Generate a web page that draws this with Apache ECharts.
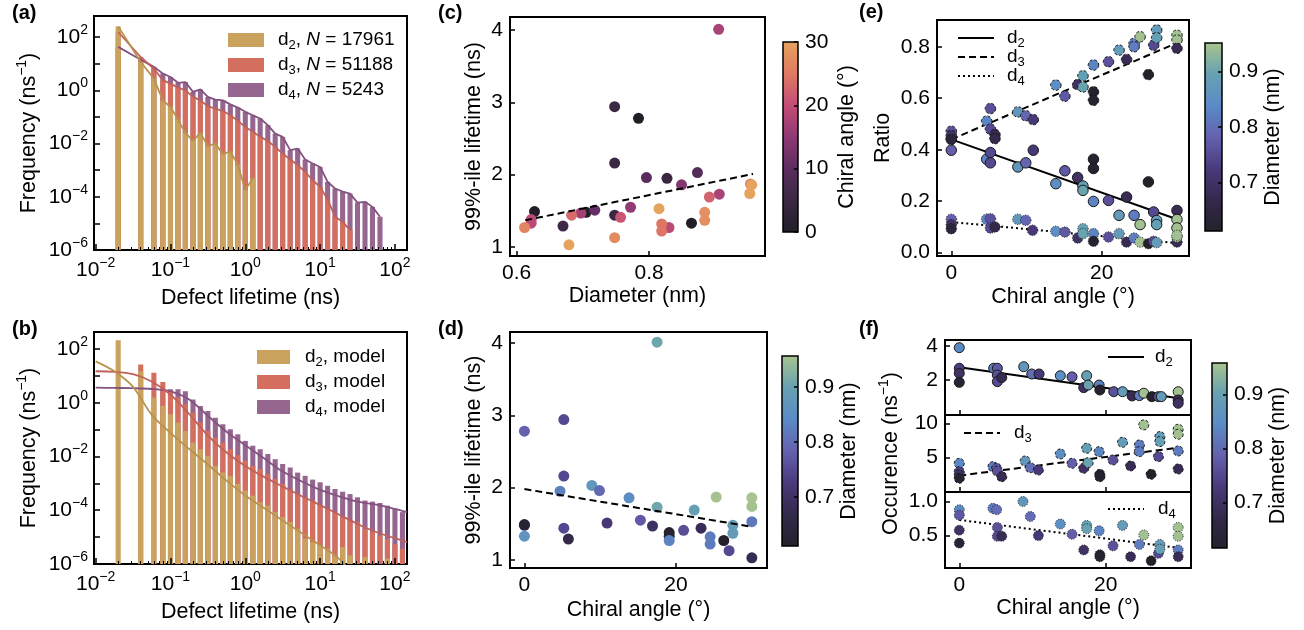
<!DOCTYPE html>
<html><head><meta charset="utf-8"><title>Defect lifetimes</title>
<script src="https://cdn.jsdelivr.net/npm/echarts@6.0.0/dist/echarts.min.js"></script>
<style>html,body{margin:0;padding:0;background:#fff;}#chart{width:1304px;height:630px;}</style>
</head><body><div id="chart"></div>
<script>
const FONT = '"Liberation Sans", Arial, Helvetica, sans-serif';

// ---------------- data ----------------
// histogram bin centres (ns)
const lifetimeBins = [0.02,0.04,0.06,0.079,0.1,0.126,0.158,0.2,0.251,0.316,0.398,0.501,0.631,0.794,1,1.26,1.58,2,2.51,3.16,3.98,5.01,6.31,7.94,10,12.6,15.8,20,25.1,31.6,39.8,50.1,63.1,79.4,100,126];
// panel (a): log10(frequency / ns^-1) read per bin, null = empty bin
const histA_d2 = [2.4,1.06,0.44,-0.38,-0.63,-1.1,-1.6,-1.9,-1.6,-2.1,-2.0,-2.4,-2.3,-2.8,-3.75,-3.3,null,null,null,null,null,null,null,null,null,null,null,null,null,null,null,null,null,null,null,null];
const histA_d3 = [2.19,1.25,0.81,0.38,0.25,0.1,0,-0.25,-0.38,-0.6,-0.69,-0.78,-0.94,-1.15,-1.38,-1.56,-1.75,-1.9,-2.13,-2.38,-2.6,-2.81,-3.06,-3.38,-3.63,-4.1,-4.75,-4.94,-5.25,null,null,null,null,null,null,null];
const histA_d4 = [1.63,1.15,0.88,0.63,0.5,0.28,0.31,-0.06,0.03,-0.25,-0.35,-0.38,-0.53,-0.65,-0.81,-0.94,-1.06,-1.31,-1.63,-1.75,-2.25,-2.19,-2.6,-2.75,-2.88,-3.44,-3.69,-3.81,-3.88,-4.22,-4.19,-4.38,-4.75,null,null,null];
// panel (b): sampled model histograms, log10
const histB_d2 = [2.32,1.17,0.19,-0.12,-0.43,-0.74,-1.05,-1.48,-1.73,-1.98,-2.35,-2.6,-2.72,-3.02,-3.27,-3.46,-3.7,-3.83,-4.07,-4.26,-4.44,-4.69,-5.06,-5.19,-5.31,-5.43,-5.68,-5.37,-5.68,null,-5.74,null,null,-5.8,null,null];
const histB_d3 = [null,1.42,1.11,0.77,0.45,0.19,-0.06,-0.37,-0.74,-1.05,-1.3,-1.48,-1.73,-1.95,-2.16,-2.35,-2.47,-2.65,-2.84,-3.02,-3.21,-3.4,-3.52,-3.64,-3.83,-3.95,-4.1,-4.26,-4.38,-4.44,-4.69,-4.81,-4.94,-5.06,-5.25,-5.43];
const histB_d4 = [null,null,null,0.5,0.5,0.5,0.43,0.12,-0.12,-0.31,-0.56,-0.8,-0.99,-1.17,-1.42,-1.6,-1.73,-1.91,-2.1,-2.28,-2.41,-2.6,-2.72,-2.86,-2.96,-3.09,-3.21,-3.31,-3.4,-3.52,-3.64,-3.68,-3.73,-3.83,-3.95,-4.07];
// panel (b): model curves, log10
const modelX = [0.01,0.0178,0.0316,0.0562,0.1,0.178,0.316,0.562,1,1.78,3.16,5.62,10,17.8,31.6,56.2,100,145];
const modelB_d2 = [1.54,1.17,0.59,-0.45,-1.12,-1.72,-2.3,-2.9,-3.45,-3.92,-4.38,-4.85,-5.3,-5.8,-6.6,null,null,null];
const modelB_d3 = [1.17,1.15,1.06,0.79,0.3,-0.42,-1.22,-1.85,-2.35,-2.76,-3.12,-3.47,-3.81,-4.16,-4.51,-4.81,-5.04,-5.19];
const modelB_d4 = [0.56,0.55,0.54,0.51,0.42,0.12,-0.49,-1.08,-1.58,-2.07,-2.56,-2.92,-3.24,-3.48,-3.68,-3.79,-3.95,-4.07];

// panels (c),(d): one entry per nanotube
const tubeDiameter = [0.905,0.748,0.784,0.748,0.827,0.873,0.796,0.849,0.953,0.955,0.952,0.906,0.891,0.815,0.884,0.884,0.705,0.627,0.864,0.748,0.670,0.718,0.772,0.697,0.622,0.622,0.830,0.757,0.683,0.819,0.819,0.612,0.748,0.679];
const tubeAngle    = [17.5,5.2,0,5.2,4.7,8.9,9.9,13.8,25.3,30,30,17.5,22.4,30,27.5,27.5,0,0,0,5.2,5.8,10.9,15.3,16.9,19.1,19.1,19.1,21.0,23.3,24.5,24.5,26.3,27.0,30];
const tubeLifetime = [4.01,2.94,2.78,2.16,1.95,2.03,1.96,1.86,1.87,1.86,1.74,1.73,1.69,1.53,1.48,1.37,1.48,1.49,1.33,1.44,1.29,1.51,1.55,1.47,1.38,1.33,1.27,1.41,1.44,1.32,1.22,1.27,1.13,1.03];
const fitC = [[0.613,1.37],[0.957,2.01]];
const fitD = [[0,1.98],[30,1.46]];

// panel (e): [chiral angle, ratio, diameter]
const ratioD2 = [[0,0.398,0.78],[0,0.443,0.70],[4.7,0.363,0.83],[5.2,0.389,0.75],[5.2,0.349,0.75],[8.85,0.333,0.87],[9.9,0.349,0.79],[10.9,0.398,0.72],[13.9,0.268,0.85],[15.1,0.318,0.77],[16.8,0.292,0.70],[17.5,0.259,0.89],[17.5,0.242,0.90],[18.9,0.199,0.83],[18.9,0.363,0.62],[18.9,0.327,0.62],[20.9,0.203,0.76],[22.3,0.145,0.88],[23.3,0.216,0.68],[24.3,0.145,0.82],[25.1,0.109,0.95],[26.2,0.275,0.61],[26.9,0.158,0.75],[27.3,0.125,0.88],[27.3,0.109,0.89],[30,0.164,0.68],[30,0.129,0.95],[30,0.096,0.95]];
const ratioD3 = [[0,0.472,0.76],[0,0.455,0.70],[0,0.44,0.64],[4.7,0.511,0.83],[5.2,0.56,0.76],[5.2,0.48,0.75],[5.8,0.459,0.67],[5.8,0.443,0.67],[8.85,0.547,0.87],[9.9,0.532,0.79],[10.9,0.517,0.72],[13.9,0.651,0.85],[15.1,0.608,0.77],[16.8,0.653,0.70],[17.5,0.687,0.89],[17.5,0.644,0.90],[18.9,0.729,0.83],[18.9,0.625,0.62],[18.9,0.592,0.62],[20.9,0.742,0.76],[22.3,0.787,0.88],[23.3,0.751,0.68],[24.3,0.813,0.82],[24.3,0.80,0.82],[25.1,0.839,0.95],[26.2,0.692,0.61],[26.9,0.806,0.75],[27.3,0.865,0.88],[27.3,0.835,0.89],[30,0.845,0.95],[30,0.826,0.95],[30,0.794,0.68]];
const ratioD4 = [[0,0.13,0.78],[0,0.109,0.70],[0,0.093,0.64],[4.7,0.13,0.83],[5.2,0.132,0.76],[5.2,0.096,0.75],[5.8,0.10,0.67],[8.85,0.13,0.87],[9.9,0.126,0.79],[10.8,0.087,0.72],[13.9,0.083,0.85],[15.1,0.08,0.77],[16.8,0.057,0.70],[17.5,0.093,0.89],[17.5,0.074,0.90],[18.9,0.074,0.83],[18.9,0.044,0.62],[20.9,0.061,0.76],[22.3,0.074,0.88],[23.3,0.041,0.68],[24.3,0.057,0.82],[25.1,0.041,0.95],[26.2,0.035,0.61],[26.9,0.044,0.75],[27.3,0.039,0.88],[30,0.041,0.68],[30,0.061,0.95],[30,0.067,0.95]];
const fitRatioD2 = [[0,0.44],[30,0.13]];
const fitRatioD3 = [[0,0.44],[30,0.815]];
const fitRatioD4 = [[0,0.119],[30,0.037]];

// panel (f): [chiral angle, occurrence (ns^-1), diameter]
const occD2 = [[0,3.9,0.84],[0,2.69,0.73],[0,2.39,0.70],[0,1.86,0.63],[4.7,2.69,0.82],[5.2,2.69,0.77],[5.2,2.29,0.76],[5.2,1.9,0.75],[5.8,2.14,0.68],[8.8,2.78,0.87],[9.9,2.35,0.80],[10.9,2.35,0.72],[13.8,2.25,0.85],[15.4,2.18,0.78],[17.4,2.25,0.89],[17.0,1.55,0.70],[17.6,1.7,0.90],[19.1,1.7,0.83],[19.2,1.41,0.62],[21.1,1.31,0.76],[22.3,1.31,0.88],[23.6,1.06,0.68],[24.6,1.08,0.82],[25.2,1.22,0.95],[26.3,1.02,0.61],[27.2,1.02,0.75],[27.6,1.02,0.88],[29.9,1.31,0.95],[29.9,0.82,0.68],[29.9,0.63,0.70]];
const occD3 = [[0,4.17,0.84],[0,2.96,0.73],[0,2.48,0.70],[0,1.99,0.63],[4.6,3.69,0.82],[5.1,3.45,0.77],[5.2,3.06,0.76],[5.8,2.23,0.68],[9.0,4.51,0.87],[9.7,3.54,0.80],[10.8,3.2,0.72],[13.8,5.53,0.85],[15.4,4.17,0.78],[17.4,6.36,0.89],[17.0,3.45,0.70],[17.6,4.27,0.90],[19.1,5.87,0.83],[19.2,2.57,0.62],[19.2,2.23,0.62],[21.0,4.66,0.76],[22.3,7.23,0.88],[23.4,3.79,0.68],[24.6,6.84,0.82],[24.6,5.87,0.82],[25.2,9.76,0.95],[26.2,2.57,0.61],[27.2,5.15,0.75],[27.4,8.06,0.88],[27.4,7.33,0.89],[29.9,9.13,0.95],[29.9,8.4,0.95],[29.9,5.97,0.82],[29.9,3.35,0.68]];
const occD4 = [[0,0.88,0.84],[0,0.80,0.77],[0,0.58,0.70],[0,0.39,0.63],[4.6,0.90,0.82],[5.1,0.88,0.80],[5.2,0.62,0.76],[5.2,0.49,0.75],[5.8,0.49,0.68],[8.7,1.0,0.87],[9.7,0.78,0.80],[10.8,0.5,0.72],[13.8,0.67,0.85],[15.4,0.52,0.78],[17.4,0.65,0.89],[17.4,0.6,0.90],[17.0,0.29,0.70],[19.1,0.57,0.83],[19.2,0.22,0.62],[19.2,0.19,0.62],[21.0,0.35,0.76],[22.3,0.65,0.88],[23.4,0.19,0.68],[24.6,0.37,0.82],[25.2,0.51,0.95],[26.2,0.13,0.61],[27.2,0.24,0.75],[27.4,0.37,0.88],[27.4,0.30,0.89],[29.9,0.62,0.95],[29.9,0.49,0.95],[29.9,0.29,0.82],[29.9,0.19,0.68]];
const fitOccD2 = [[0,2.75],[30,0.92]];
const fitOccD3 = [[0,2.38],[30,6.46]];
const fitOccD4 = [[0,0.73],[30,0.32]];

// tick values
const ticksDiamX = [0.6,0.8];
const ticksLife = [1,2,3,4];
const ticksAngle = [0,20];
const ticksRatio = [0,0.2,0.4,0.6,0.8];
const ticksOccD2 = [2,4];
const ticksOccD3 = [5,10];
const ticksOccD4 = [0.5,1.0];
const ticksAngleBar = [0,10,20,30];
const ticksDiamBar = [0.7,0.8,0.9];

// colour maps
const angleColors = ['#221e28','#3a2841','#5b2d5f','#8e3a74','#c44d77','#e07a62','#e6a35e'];
const diamColors  = ['#24212b','#33294a','#4a3a7c','#6561af','#5a8bc6','#67a2b1','#a9c48e'];
const barCol  = {d2:'#c9a25e', d3:'#d46f5f', d4:'#946690'};
const lineCol = {d2:'#b8934f', d3:'#c0615a', d4:'#84527f'};

// ---------------- helpers ----------------
const BAR_HALF = Math.pow(10, 0.034);
const FREQ_MIN = 1e-6;
function histPairs(vals){ const o=[]; vals.forEach((v,i)=>{ if(v!==null) o.push([lifetimeBins[i], Math.pow(10,v)]); }); return o; }
function modelPairs(vals){ const o=[]; vals.forEach((v,i)=>{ if(v!==null) o.push([modelX[i], Math.pow(10,v)]); }); return o; }

const black = '#000';
const TICK_FS = 21, NAME_FS = 21.5;
const lblBase = {color:black, fontSize:TICK_FS, fontFamily:FONT};
const nameStyle = {color:black, fontSize:NAME_FS, fontFamily:FONT, rich:{s:{fontSize:14, lineHeight:14, verticalAlign:'top', fontFamily:FONT}}};
function tickIn(vals, len){ const t={show:true, inside:true, length:len||5, lineStyle:{color:black, width:1.5}}; if(vals) t.customValues=vals; return t; }
function powFormatter(evenOnly){ return function(v){ const e=Math.log10(v), r=Math.round(e); if(Math.abs(e-r)>0.01) return ''; if(evenOnly && r%2!==0) return ''; return '{b|10}{s|'+(r<0?'\u2212':'')+Math.abs(r)+'}'; }; }
const powRich = {b:{fontSize:TICK_FS, lineHeight:28, color:black, fontFamily:FONT}, s:{fontSize:14, lineHeight:14, verticalAlign:'top', color:black, fontFamily:FONT}};
const noLine = {show:false, onZero:false};

function gridBox(l,t,w,h){ return {left:l, top:t, width:w, height:h, show:true, borderColor:black, borderWidth:2, backgroundColor:'transparent', containLabel:false}; }
function cbarGrid(l,t,w,h,colors){ return {left:l, top:t, width:w, height:h, show:true, borderColor:black, borderWidth:1.5,
  backgroundColor:{type:'linear', x:0, y:1, x2:0, y2:0, colorStops: colors.map((c,i)=>({offset:i/(colors.length-1), color:c}))}}; }

function logX(gi){ return {gridIndex:gi, type:'log', logBase:10, min:0.0095, max:145, z:5,
  axisLine:noLine, splitLine:{show:false}, axisTick:tickIn(null,6), minorTick:{show:true, splitNumber:9, length:3, lineStyle:{color:black, width:1}},
  axisLabel:{formatter:powFormatter(false), rich:powRich, margin:6, showMinLabel:true, showMaxLabel:true},
  name:'Defect lifetime (ns)', nameLocation:'middle', nameGap:37, nameTextStyle:nameStyle}; }
function logY(gi,max){ return {gridIndex:gi, type:'log', logBase:10, min:FREQ_MIN, max:max, z:5,
  axisLine:noLine, splitLine:{show:false}, axisTick:tickIn(null,6),
  axisLabel:{formatter:powFormatter(true), rich:powRich, margin:6},
  name:'Frequency (ns{s|\u22121})', nameLocation:'middle', nameRotate:90, nameGap:51, nameTextStyle:Object.assign({}, nameStyle, {lineHeight:28})}; }
function linAxis(gi, min, max, ticks, fmt, extra){ return Object.assign({gridIndex:gi, type:'value', min:min, max:max, z:5,
  axisLine:noLine, splitLine:{show:false}, axisTick:tickIn(ticks,5),
  axisLabel:Object.assign({customValues:ticks, formatter:fmt, margin:7}, lblBase)}, extra||{}); }
const f1 = v => v.toFixed(1), f0 = v => String(Math.round(v));

// ---------------- series ----------------
function barSeries(gi, name, vals, color){
  return {type:'custom', name:name, xAxisIndex:gi, yAxisIndex:gi, data:histPairs(vals), encode:{x:0,y:1}, z:2, silent:true,
    itemStyle:{color:color},
    renderItem:function(params, api){
      const x=api.value(0), y=api.value(1);
      const p0=api.coord([x/BAR_HALF, y]);
      const p1=api.coord([x*BAR_HALF, FREQ_MIN]);
      return {type:'rect', shape:{x:p0[0], y:p0[1], width:p1[0]-p0[0], height:p1[1]-p0[1]}, style:{fill:color}};
    }};
}
function lineSeries(gi, name, data, color, width, smooth, z){
  return {type:'line', name:name, xAxisIndex:gi, yAxisIndex:gi, data:data, symbol:'none', smooth:smooth||false, silent:true, z:z||4,
    lineStyle:{color:color, width:width}};
}
function fitSeries(gi, name, data, dash, z){
  return {type:'line', name:name, xAxisIndex:gi, yAxisIndex:gi, data:data, symbol:'none', silent:true, z:z,
    lineStyle:{color:black, width:2, type:dash}, itemStyle:{color:black}};
}
function scatter(gi, name, data, size, border){
  const s = {type:'scatter', name:name, xAxisIndex:gi, yAxisIndex:gi, data:data, symbolSize:size, silent:true, z:3, itemStyle:{opacity:1}};
  if (border) s.itemStyle = {opacity:1, borderColor:'#1a1a1a', borderWidth:1, borderType:border};
  return s;
}

const series = [
  barSeries(0,'a_d4',histA_d4,barCol.d4), barSeries(0,'a_d3',histA_d3,barCol.d3), barSeries(0,'a_d2',histA_d2,barCol.d2),   //0-2
  lineSeries(0,'aL4',histPairs(histA_d4),lineCol.d4,1.8), lineSeries(0,'aL3',histPairs(histA_d3),lineCol.d3,1.8), lineSeries(0,'aL2',histPairs(histA_d2),lineCol.d2,1.8), //3-5
  barSeries(1,'b_d4',histB_d4,barCol.d4), barSeries(1,'b_d3',histB_d3,barCol.d3), barSeries(1,'b_d2',histB_d2,barCol.d2),   //6-8
  lineSeries(1,'bL4',modelPairs(modelB_d4),lineCol.d4,1.8,0.3), lineSeries(1,'bL3',modelPairs(modelB_d3),lineCol.d3,1.8,0.3), lineSeries(1,'bL2',modelPairs(modelB_d2),lineCol.d2,1.8,0.3), //9-11
  scatter(2,'c',tubeDiameter.map((d,i)=>[d,tubeLifetime[i],tubeAngle[i]]),11), //12
  fitSeries(2,'cfit',fitC,[7,4],4), //13
  scatter(3,'d',tubeAngle.map((a,i)=>[a,tubeLifetime[i],tubeDiameter[i]]),11), //14
  fitSeries(3,'dfit',fitD,[7,4],4), //15
  scatter(4,'e2',ratioD2,10.5,'solid'), scatter(4,'e3',ratioD3,10.5,[3,2]), scatter(4,'e4',ratioD4,10.5,[1,1.6]), //16-18
  fitSeries(4,'eL2',fitRatioD2,'solid',2), fitSeries(4,'eL3',fitRatioD3,[7,4],2), fitSeries(4,'eL4',fitRatioD4,[2,3],2), //19-21
  scatter(5,'f2',occD2,10,'solid'), scatter(6,'f3',occD3,10,[3,2]), scatter(7,'f4',occD4,10,[1,1.6]), //22-24
  fitSeries(5,'fL2',fitOccD2,'solid',2), fitSeries(6,'fL3',fitOccD3,[7,4],2), fitSeries(7,'fL4',fitOccD4,[2,3],2) //25-27
];

const legendText = {
  a_d2:'d{s|2}, {i|N} = 17961', a_d3:'d{s|3}, {i|N} = 51188', a_d4:'d{s|4}, {i|N} = 5243',
  b_d2:'d{s|2}, model', b_d3:'d{s|3}, model', b_d4:'d{s|4}, model',
  eL2:'d{s|2}', eL3:'d{s|3}', eL4:'d{s|4}', fL2:'d{s|2}', fL3:'d{s|3}', fL4:'d{s|4}'
};
function legend(names, left, top, iw, ih, gap, lh, pad, extra){
  return Object.assign({data:names, left:left, top:top, orient:'vertical', itemWidth:iw, itemHeight:ih, itemGap:gap, padding:0,
    selectedMode:false, formatter:n=>legendText[n],
    textStyle:{color:black, fontSize:19, fontFamily:FONT, lineHeight:lh, padding:[0,0,0,pad],
      rich:{s:{fontSize:13, lineHeight:13, verticalAlign:'bottom', fontFamily:FONT}, i:{fontSize:19, fontStyle:'italic', lineHeight:lh, fontFamily:FONT}}}}, extra||{});
}
const lineLegendExtra = {itemStyle:{opacity:0}};

const option = {
  animation:false, backgroundColor:'#fff', textStyle:{fontFamily:FONT},
  title:[
    {text:'(a)', left:12, top:3}, {text:'(b)', left:12, top:319}, {text:'(c)', left:438, top:3},
    {text:'(d)', left:438, top:319}, {text:'(e)', left:859, top:2}, {text:'(f)', left:859, top:319}
  ].map(t=>Object.assign(t,{padding:0, textStyle:{fontSize:20, fontWeight:'bold', color:black, fontFamily:FONT}})),
  grid:[
    gridBox(94,16,313,234), gridBox(94,332,313,232),
    gridBox(510,17,255,239), gridBox(510,332,257,236),
    gridBox(937,20,252,236),
    gridBox(945,340,246,75), gridBox(945,415,246,77), gridBox(945,492,246,76),
    cbarGrid(783,42,15,190,angleColors), cbarGrid(782,356,16,190,diamColors),
    cbarGrid(1205,43,17,188,diamColors), cbarGrid(1212,363,15,185,diamColors)
  ],
  xAxis:[
    logX(0), logX(1),
    linAxis(2,0.59,0.975,ticksDiamX,f1,{name:'Diameter (nm)', nameLocation:'middle', nameGap:29, nameTextStyle:nameStyle}),
    linAxis(3,-1.9,32,ticksAngle,f0,{name:'Chiral angle (°)', nameLocation:'middle', nameGap:31, nameTextStyle:nameStyle}),
    linAxis(4,-1.9,31.6,ticksAngle,f0,{name:'Chiral angle (°)', nameLocation:'middle', nameGap:30, nameTextStyle:nameStyle}),
    linAxis(5,-1.95,31.65,ticksAngle,f0,{axisLabel:{show:false}}),
    linAxis(6,-1.95,31.65,ticksAngle,f0,{axisLabel:{show:false}}),
    linAxis(7,-1.95,31.65,ticksAngle,f0,{name:'Chiral angle (°)', nameLocation:'middle', nameGap:29, nameTextStyle:nameStyle}),
    {gridIndex:8, type:'value', show:false, min:0, max:1}, {gridIndex:9, type:'value', show:false, min:0, max:1},
    {gridIndex:10, type:'value', show:false, min:0, max:1}, {gridIndex:11, type:'value', show:false, min:0, max:1}
  ],
  yAxis:[
    logY(0,617), logY(1,427),
    linAxis(2,0.876,4.18,ticksLife,f0,{name:'99%-ile lifetime (ns)', nameLocation:'middle', nameRotate:90, nameGap:25, nameTextStyle:nameStyle}),
    linAxis(3,0.89,4.15,ticksLife,f0,{name:'99%-ile lifetime (ns)', nameLocation:'middle', nameRotate:90, nameGap:25, nameTextStyle:nameStyle}),
    linAxis(4,-0.013,0.904,ticksRatio,f1,{name:'Ratio', nameLocation:'middle', nameRotate:90, nameGap:43, nameTextStyle:nameStyle}),
    linAxis(5,-0.06,4.35,ticksOccD2,f0),
    linAxis(6,0,11.2,ticksOccD3,f0,{name:'Occurence (ns{s|\u22121})', nameLocation:'middle', nameRotate:90, nameGap:40, nameTextStyle:Object.assign({}, nameStyle, {lineHeight:28})}),
    linAxis(7,0.025,1.14,ticksOccD4,f1),
    linAxis(8,0,30,ticksAngleBar,f0,{position:'right', axisTick:tickIn(ticksAngleBar,4), name:'Chiral angle (°)', nameLocation:'middle', nameRotate:90, nameGap:38, nameTextStyle:nameStyle}),
    linAxis(9,0.611,0.956,ticksDiamBar,f1,{position:'right', axisTick:tickIn(ticksDiamBar,4), name:'Diameter (nm)', nameLocation:'middle', nameRotate:90, nameGap:40, nameTextStyle:nameStyle}),
    linAxis(10,0.613,0.951,ticksDiamBar,f1,{position:'right', axisTick:tickIn(ticksDiamBar,4), name:'Diameter (nm)', nameLocation:'middle', nameRotate:90, nameGap:40, nameTextStyle:nameStyle}),
    linAxis(11,0.616,0.958,ticksDiamBar,f1,{position:'right', axisTick:tickIn(ticksDiamBar,4), name:'Diameter (nm)', nameLocation:'middle', nameRotate:90, nameGap:40, nameTextStyle:nameStyle})
  ],
  visualMap:[
    {type:'continuous', show:false, seriesIndex:[12], dimension:2, min:0, max:30, inRange:{color:angleColors}},
    {type:'continuous', show:false, seriesIndex:[14,16,17,18,22,23,24], dimension:2, min:0.611, max:0.956, inRange:{color:diamColors}}
  ],
  legend:[
    legend([{name:'a_d2',icon:'rect'},{name:'a_d3',icon:'rect'},{name:'a_d4',icon:'rect'}],228,28,36,14,1,24,9),
    legend([{name:'b_d2',icon:'rect'},{name:'b_d3',icon:'rect'},{name:'b_d4',icon:'rect'}],257,345,33,14,1,24,10),
    legend(['eL2','eL3','eL4'],957,26,36,14,-5,24,8,lineLegendExtra),
    legend(['fL2'],1107,345,36,14,0,24,6,lineLegendExtra),
    legend(['fL3'],963,421,36,14,0,24,9,lineLegendExtra),
    legend(['fL4'],1107,497,36,14,0,24,9,lineLegendExtra)
  ],
  series:series
};

const chart = echarts.init(document.getElementById('chart'), null, {renderer:'canvas', width:1304, height:630});
chart.setOption(option);
</script></body></html>
